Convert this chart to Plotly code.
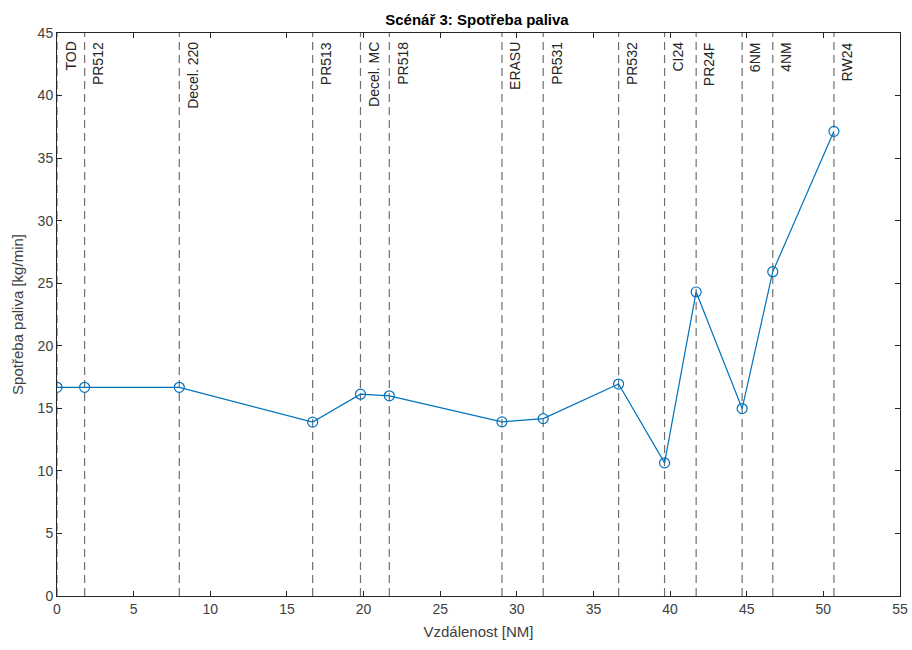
import plotly.graph_objects as go

# Data
waypoints = ["TOD", "PR512", "Decel. 220", "PR513", "Decel. MC", "PR518", "ERASU",
             "PR531", "PR532", "CI24", "PR24F", "6NM", "4NM", "RW24"]
distance_nm = [0.0, 1.8, 7.98, 16.68, 19.8, 21.68, 29.03, 31.72, 36.64, 39.64, 41.7, 44.7, 46.7, 50.69]
fuel_flow = [16.68, 16.68, 16.68, 13.9, 16.13, 16.0, 13.92, 14.18, 16.94, 10.64, 24.3, 14.98, 25.92, 37.14]

x_ticks = list(range(0, 56, 5))
y_ticks = list(range(0, 46, 5))

FONT = "Liberation Sans, Arial, sans-serif"
BLUE = "#0072BD"
AX = "#262626"
TICKC = "#404040"

fig = go.Figure()

# vertical dashed lines at waypoints
for d in distance_nm:
    fig.add_shape(type="line", xref="x", yref="paper", x0=d, x1=d, y0=0, y1=1,
                  line=dict(color="#707070", width=1.2, dash="8px,5px"), layer="below")

for name, d in zip(waypoints, distance_nm):
    fig.add_annotation(x=d, y=1, xref="x", yref="paper", text=name, showarrow=False,
                       textangle=-90, xanchor="left", yanchor="top", xshift=3, yshift=-7,
                       font=dict(family=FONT, size=14, color=AX))

fig.add_trace(go.Scatter(x=distance_nm, y=fuel_flow, mode="lines+markers",
                         line=dict(color=BLUE, width=1.2),
                         marker=dict(symbol="circle-open", size=10, color=BLUE, line=dict(width=1.2)),
                         showlegend=False))

axis_common = dict(showgrid=False, zeroline=False, showline=True, linecolor=AX, linewidth=1,
                   mirror="allticks", ticks="inside", ticklen=5, tickcolor=AX, automargin=False,
                   ticklabeloverflow="allow",
                   tickfont=dict(family=FONT, size=14, color=TICKC))

fig.update_xaxes(range=[0, 55], tickvals=x_ticks, ticktext=[str(t) for t in x_ticks],
                 title=dict(text="Vzdálenost [NM]", font=dict(family=FONT, size=15, color=TICKC), standoff=10),
                 **axis_common)
fig.update_yaxes(range=[0, 45], tickvals=y_ticks, ticktext=[str(t) for t in y_ticks],
                 title=dict(text="Spotřeba paliva [kg/min]", font=dict(family=FONT, size=15, color=TICKC), standoff=10),
                 **axis_common)

fig.update_layout(
    width=912, height=650,
    margin=dict(l=57, r=12, t=33, b=54, autoexpand=False),
    plot_bgcolor="white", paper_bgcolor="white",
    title=dict(text="<b>Scénář 3: Spotřeba paliva</b>", x=0.523, xanchor="center", y=0.97, yanchor="middle",
               font=dict(family=FONT, size=15, color="black")),
)

fig.write_html("out.html")
